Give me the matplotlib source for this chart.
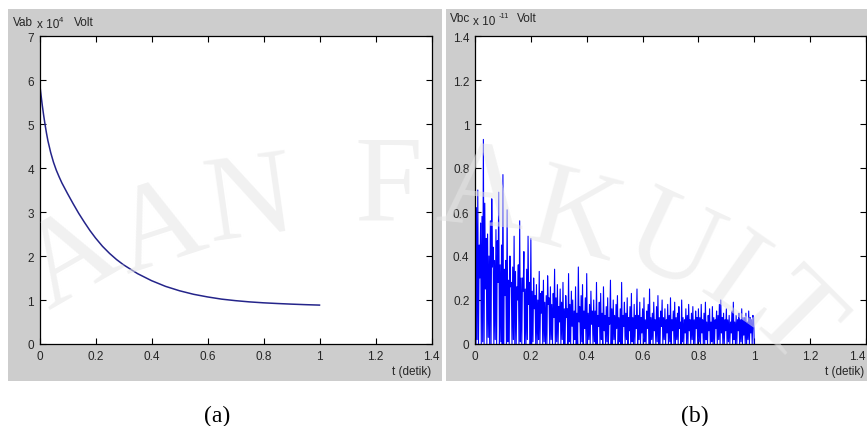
import numpy as np
import matplotlib
matplotlib.use("Agg")
import matplotlib.pyplot as plt
from matplotlib.patches import Rectangle

plt.rcParams["font.family"] = ["Liberation Sans", "DejaVu Sans"]

# Tegangan Vab (x 10^4 Volt) terhadap waktu
t_ab = [0.0, 0.005, 0.01, 0.015, 0.02, 0.025, 0.03, 0.04, 0.05, 0.06, 0.07, 0.08,
        0.09, 0.1, 0.12, 0.14, 0.16, 0.18, 0.2, 0.225, 0.25, 0.275, 0.3, 0.35,
        0.4, 0.45, 0.5, 0.55, 0.6, 0.65, 0.7, 0.75, 0.8, 0.85, 0.9, 0.95, 1.0]
vab = [5.95, 5.68, 5.42, 5.19, 4.98, 4.79, 4.62, 4.35, 4.13, 3.95, 3.80, 3.66,
       3.54, 3.42, 3.19, 2.97, 2.77, 2.58, 2.41, 2.22, 2.06, 1.92, 1.80, 1.60,
       1.44, 1.31, 1.21, 1.13, 1.07, 1.02, 0.985, 0.957, 0.936, 0.92, 0.906, 0.894, 0.884]

# Tegangan Vbc (x 10^-11 Volt): nilai puncak tiap 0.005 detik,
# nilai lembah di antaranya (0.0025 detik sesudah puncak)
dt_bc = 0.005
vbc_puncak = [
    1.24, 0.62, 0.70, 0.45, 0.55, 0.58, 0.93, 0.64, 0.48, 0.50, 0.40, 0.56, 0.66, 0.44, 0.38, 0.52, 0.47, 0.69, 0.36, 0.45,
    0.77, 0.34, 0.38, 0.61, 0.29, 0.40, 0.28, 0.35, 0.49, 0.33, 0.26, 0.36, 0.56, 0.30, 0.30, 0.42, 0.25, 0.34, 0.49, 0.28,
    0.48, 0.24, 0.30, 0.22, 0.27, 0.20, 0.33, 0.23, 0.24, 0.29, 0.19, 0.22, 0.31, 0.21, 0.26, 0.18, 0.23, 0.34, 0.21, 0.27,
    0.17, 0.25, 0.19, 0.28, 0.16, 0.22, 0.16, 0.32, 0.18, 0.24, 0.20, 0.15, 0.26, 0.14, 0.35, 0.17, 0.22, 0.27, 0.15, 0.21,
    0.32, 0.14, 0.18, 0.24, 0.15, 0.20, 0.15, 0.28, 0.13, 0.19, 0.23, 0.14, 0.26, 0.13, 0.17, 0.21, 0.12, 0.29, 0.16, 0.20,
    0.13, 0.18, 0.22, 0.12, 0.16, 0.28, 0.13, 0.19, 0.14, 0.21, 0.12, 0.17, 0.23, 0.12, 0.18, 0.13, 0.25, 0.13, 0.19, 0.12,
    0.16, 0.21, 0.11, 0.15, 0.18, 0.25, 0.12, 0.14, 0.19, 0.11, 0.17, 0.22, 0.12, 0.15, 0.20, 0.12, 0.16, 0.11, 0.18, 0.13,
    0.21, 0.11, 0.15, 0.19, 0.12, 0.14, 0.17, 0.10, 0.20, 0.12, 0.11, 0.16, 0.13, 0.18, 0.11, 0.14, 0.17, 0.11, 0.15, 0.12,
    0.16, 0.12, 0.18, 0.11, 0.14, 0.19, 0.10, 0.13, 0.16, 0.10, 0.17, 0.12, 0.11, 0.15, 0.13, 0.18, 0.20, 0.12, 0.14, 0.11,
    0.16, 0.11, 0.13, 0.10, 0.15, 0.19, 0.10, 0.13, 0.11, 0.14, 0.11, 0.16, 0.12, 0.12, 0.14, 0.10, 0.15, 0.12, 0.11, 0.13,
]
vbc_lembah = [
    0.00, 0.02, 0.00, 0.30, 0.00, 0.01, 0.00, 0.25, 0.00, 0.03, 0.00, 0.00, 0.35, 0.00, 0.02, 0.00, 0.28, 0.00, 0.01, 0.00,
    0.00, 0.22, 0.00, 0.01, 0.00, 0.26, 0.00, 0.02, 0.00, 0.00, 0.20, 0.00, 0.01, 0.00, 0.24, 0.00, 0.00, 0.02, 0.18, 0.00,
    0.00, 0.01, 0.16, 0.00, 0.00, 0.02, 0.00, 0.14, 0.00, 0.01, 0.00, 0.00, 0.18, 0.00, 0.02, 0.00, 0.12, 0.00, 0.01, 0.00,
    0.10, 0.00, 0.02, 0.00, 0.00, 0.12, 0.00, 0.01, 0.00, 0.08, 0.00, 0.02, 0.00, 0.00, 0.10, 0.00, 0.01, 0.00, 0.07, 0.00,
    0.00, 0.02, 0.00, 0.09, 0.00, 0.01, 0.00, 0.00, 0.08, 0.00, 0.02, 0.00, 0.06, 0.00, 0.01, 0.00, 0.09, 0.00, 0.00, 0.02,
    0.00, 0.07, 0.00, 0.01, 0.00, 0.00, 0.08, 0.00, 0.02, 0.00, 0.06, 0.00, 0.01, 0.00, 0.00, 0.07, 0.00, 0.02, 0.00, 0.05,
    0.00, 0.01, 0.00, 0.07, 0.00, 0.00, 0.02, 0.00, 0.06, 0.00, 0.01, 0.00, 0.00, 0.08, 0.00, 0.02, 0.00, 0.05, 0.00, 0.01,
    0.00, 0.06, 0.00, 0.00, 0.02, 0.00, 0.07, 0.00, 0.01, 0.00, 0.05, 0.00, 0.00, 0.06, 0.00, 0.02, 0.00, 0.00, 0.07, 0.00,
    0.01, 0.00, 0.05, 0.00, 0.00, 0.02, 0.00, 0.06, 0.00, 0.01, 0.00, 0.00, 0.07, 0.00, 0.02, 0.00, 0.05, 0.00, 0.00, 0.06,
    0.00, 0.01, 0.00, 0.05, 0.00, 0.02, 0.00, 0.00, 0.06, 0.00, 0.01, 0.00, 0.04, 0.00, 0.00, 0.02, 0.00, 0.05, 0.00, 0.12,
]
vbc_akhir = 0.0  # nilai pada t = 1 detik

x_ticks = [0, 0.2, 0.4, 0.6, 0.8, 1, 1.2, 1.4]
x_ticklabels = ["0", "0.2", "0.4", "0.6", "0.8", "1", "1.2", "1.4"]
ya_ticks = [0, 1, 2, 3, 4, 5, 6, 7]
yb_ticks = [0, 0.2, 0.4, 0.6, 0.8, 1, 1.2, 1.4]
yb_ticklabels = ["0", "0.2", "0.4", "0.6", "0.8", "1", "1.2", "1.4"]

# susun puncak dan lembah menjadi satu deret waktu
vbc = np.empty(2 * len(vbc_puncak) + 1)
vbc[0:-1:2] = vbc_puncak
vbc[1:-1:2] = vbc_lembah
vbc[-1] = vbc_akhir
t_bc = np.arange(len(vbc)) * dt_bc / 2

W, H = 867, 427
fig = plt.figure(figsize=(W / 100, H / 100), dpi=100)
fig.patch.set_facecolor("white")


def px(x, y):
    # koordinat piksel (kiri-atas) ke koordinat figure
    return x / W, 1 - y / H


# latar abu-abu jendela figure MATLAB
panel_gray = "#cdcdcd"
fig.patches.append(Rectangle(px(8, 382), 434 / W, 372 / H, transform=fig.transFigure,
                             facecolor=panel_gray, edgecolor="none", zorder=-2))
fig.patches.append(Rectangle(px(446, 382), 421 / W, 372 / H, transform=fig.transFigure,
                             facecolor=panel_gray, edgecolor="none", zorder=-2))

ax_a = fig.add_axes([39.5 / W, (H - 345) / H, 392 / W, 308 / H])
ax_b = fig.add_axes([475 / W, (H - 345) / H, 391 / W, 308 / H])

ax_a.plot(t_ab, vab, color="#24248a", linewidth=1.1)
ax_b.plot(t_bc, vbc, color="#0000ff", linewidth=0.8)

for ax, yt, ytl, ytop in [(ax_a, ya_ticks, [str(v) for v in ya_ticks], 7),
                          (ax_b, yb_ticks, yb_ticklabels, 1.4)]:
    ax.set_xlim(0, 1.4)
    ax.set_ylim(0, ytop)
    ax.set_xticks(x_ticks)
    ax.set_xticklabels(x_ticklabels)
    ax.set_yticks(yt)
    ax.set_yticklabels(ytl)
    ax.tick_params(direction="in", length=4, width=0.8, top=True, right=True,
                   labelsize=8.5, labelcolor="#262626", pad=4)
    for s in ax.spines.values():
        s.set_linewidth(0.9)
        s.set_color("black")

# label 1.4 di tepi kanan figure digeser ke dalam supaya tidak terpotong
ax_b.get_xticklabels()[-1].set_horizontalalignment("right")

ax_a.text(1.0, -0.088, "t (detik)", transform=ax_a.transAxes, ha="right", va="center",
          fontsize=8.5, color="#262626")
fig.text(*px(864, 372), "t (detik)", ha="right", va="center", fontsize=8.5, color="#262626")

# label sumbu y ala MATLAB
lab = dict(fontsize=8.5, color="#262626", va="center", ha="left")
fig.text(*px(13, 23.5), "Vab", **lab)
fig.text(*px(37, 25), "x 10", **lab)
fig.text(*px(58.5, 20), "4", fontsize=5.5, color="#262626", va="center", ha="left")
fig.text(*px(74, 23.5), "Volt", **lab)
fig.text(*px(450, 19), "Vbc", **lab)
fig.text(*px(473, 22), "x 10", **lab)
fig.text(*px(498.5, 17), "-11", fontsize=5.5, color="#262626", va="center", ha="left")
fig.text(*px(517, 19), "Volt", **lab)

# keterangan gambar
cap = dict(fontsize=17, family="Liberation Serif", color="black", ha="center", va="center")
fig.text(*px(217, 416), "(a)", **cap)
fig.text(*px(695, 416), "(b)", **cap)

# watermark perpustakaan
wm_letters = ["A", "A", "N", "F", "A", "K", "U", "L", "T"]
wm_xy = [(72, 262), (160, 232), (250, 205), (388, 190), (482, 195),
         (575, 222), (670, 248), (745, 288), (792, 322)]
wm_rot = [30, 18, 8, 0, -6, -15, -25, -35, -45]
for ch, (x, y), r in zip(wm_letters, wm_xy, wm_rot):
    fig.text(*px(x, y), ch, fontsize=88, family="Liberation Serif", color="#e6e6e6",
             alpha=0.55, ha="center", va="center", rotation=r, zorder=5)

fig.savefig("out.png", dpi=100, facecolor=fig.get_facecolor())
